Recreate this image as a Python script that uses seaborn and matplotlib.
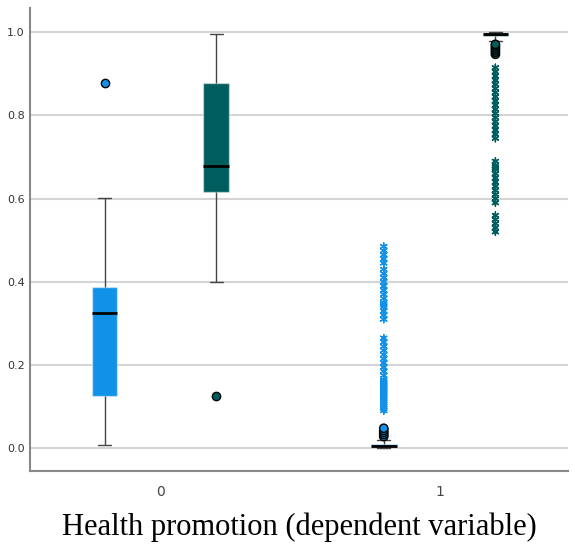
import pandas as pd
import matplotlib.pyplot as plt
import seaborn as sns

groups = ["0", "1"]
series = ["Prob. 0", "Prob. 1"]
colors = ["#1192e8", "#005d5d"]

# five-number summaries: low whisker, Q1, median, Q3, high whisker
box_g0_s0 = [0.007, 0.125, 0.325, 0.387, 0.601]
box_g0_s1 = [0.399, 0.615, 0.678, 0.877, 0.995]
box_g1_s0 = [0.000, 0.002, 0.005, 0.009, 0.020]
box_g1_s1 = [0.978, 0.990, 0.995, 0.999, 1.000]

# outliers (circles)
out_g0_s0 = [0.877]
out_g0_s1 = [0.125]
out_g1_s0 = [0.028, 0.033, 0.038, 0.043, 0.048]
out_g1_s1 = [0.947, 0.952, 0.957, 0.962, 0.967, 0.971]

# extremes (asterisks)
ext_g1_s0 = [0.485, 0.475, 0.465, 0.455, 0.445, 0.43, 0.42, 0.41, 0.40, 0.39,
             0.38, 0.37, 0.36, 0.35, 0.345, 0.34, 0.33, 0.32, 0.31,
             0.265, 0.255, 0.245, 0.235, 0.225, 0.215, 0.205, 0.195, 0.185,
             0.175, 0.165, 0.16, 0.155, 0.15, 0.145, 0.14, 0.135, 0.13, 0.125,
             0.12, 0.115, 0.11, 0.105, 0.10, 0.095, 0.09]
ext_g1_s1 = [0.915, 0.905, 0.895, 0.885, 0.875, 0.865, 0.855, 0.845, 0.835,
             0.825, 0.815, 0.805, 0.795, 0.785, 0.775, 0.765, 0.755, 0.745,
             0.69, 0.68, 0.675, 0.67, 0.66, 0.65, 0.64, 0.63, 0.62, 0.61,
             0.60, 0.59, 0.56, 0.55, 0.54, 0.53, 0.52]


def long_table(items):
    rows = []
    for g, s, vals in items:
        for v in vals:
            rows.append({"group": g, "series": s, "value": v})
    return pd.DataFrame(rows)


box_df = long_table([("0", series[0], box_g0_s0), ("0", series[1], box_g0_s1),
                     ("1", series[0], box_g1_s0), ("1", series[1], box_g1_s1)])
out_df = long_table([("0", series[0], out_g0_s0), ("0", series[1], out_g0_s1),
                     ("1", series[0], out_g1_s0), ("1", series[1], out_g1_s1)])
ext_df = long_table([("1", series[0], ext_g1_s0), ("1", series[1], ext_g1_s1)])

sns.set_style("white")
fig = plt.figure(figsize=(5.72, 5.44), dpi=100)
ax = fig.add_axes([0.053, 0.134, 0.94, 0.851])

sns.boxplot(data=box_df, x="group", y="value", hue="series",
            order=groups, hue_order=series, palette=colors, saturation=1,
            whis=(0, 100), width=0.8, gap=0.77, showfliers=False,
            linecolor="#444444", linewidth=1,
            medianprops=dict(color="black", linewidth=2),
            boxprops=dict(edgecolor=(1, 1, 1, 0.45)),
            legend=False, ax=ax)

sns.stripplot(data=out_df, x="group", y="value", hue="series",
              order=groups, hue_order=series, palette=colors,
              dodge=True, jitter=False, size=6, linewidth=1,
              edgecolor="black", legend=False, ax=ax, zorder=4)

sns.stripplot(data=ext_df, x="group", y="value", hue="series",
              order=groups, hue_order=series, palette=colors,
              dodge=True, jitter=False, size=5, linewidth=1,
              marker=(6, 2, 0), legend=False, ax=ax, zorder=4)

ax.set_xlim(-0.466, 1.46)
ax.set_ylim(-0.055, 1.058)
ax.set_yticks([0.0, 0.2, 0.4, 0.6, 0.8, 1.0])
ax.set_yticklabels(["0.0", "0.2", "0.4", "0.6", "0.8", "1.0"])
ax.yaxis.grid(True, color="#d4d4d4", linewidth=1.5)
ax.set_axisbelow(True)
ax.tick_params(axis="y", length=0, labelsize=8, labelcolor="#333333", pad=4)
ax.tick_params(axis="x", length=0, labelsize=10, labelcolor="#444444", pad=10)
for side in ["top", "right"]:
    ax.spines[side].set_visible(False)
for side in ["left", "bottom"]:
    ax.spines[side].set_color("#888888")
    ax.spines[side].set_linewidth(1.5)

ax.set_ylabel("")
ax.set_xlabel("Health promotion (dependent variable)",
              family="Liberation Serif", fontsize=22, color="black", labelpad=10)

fig.savefig("out.png", dpi=100)
